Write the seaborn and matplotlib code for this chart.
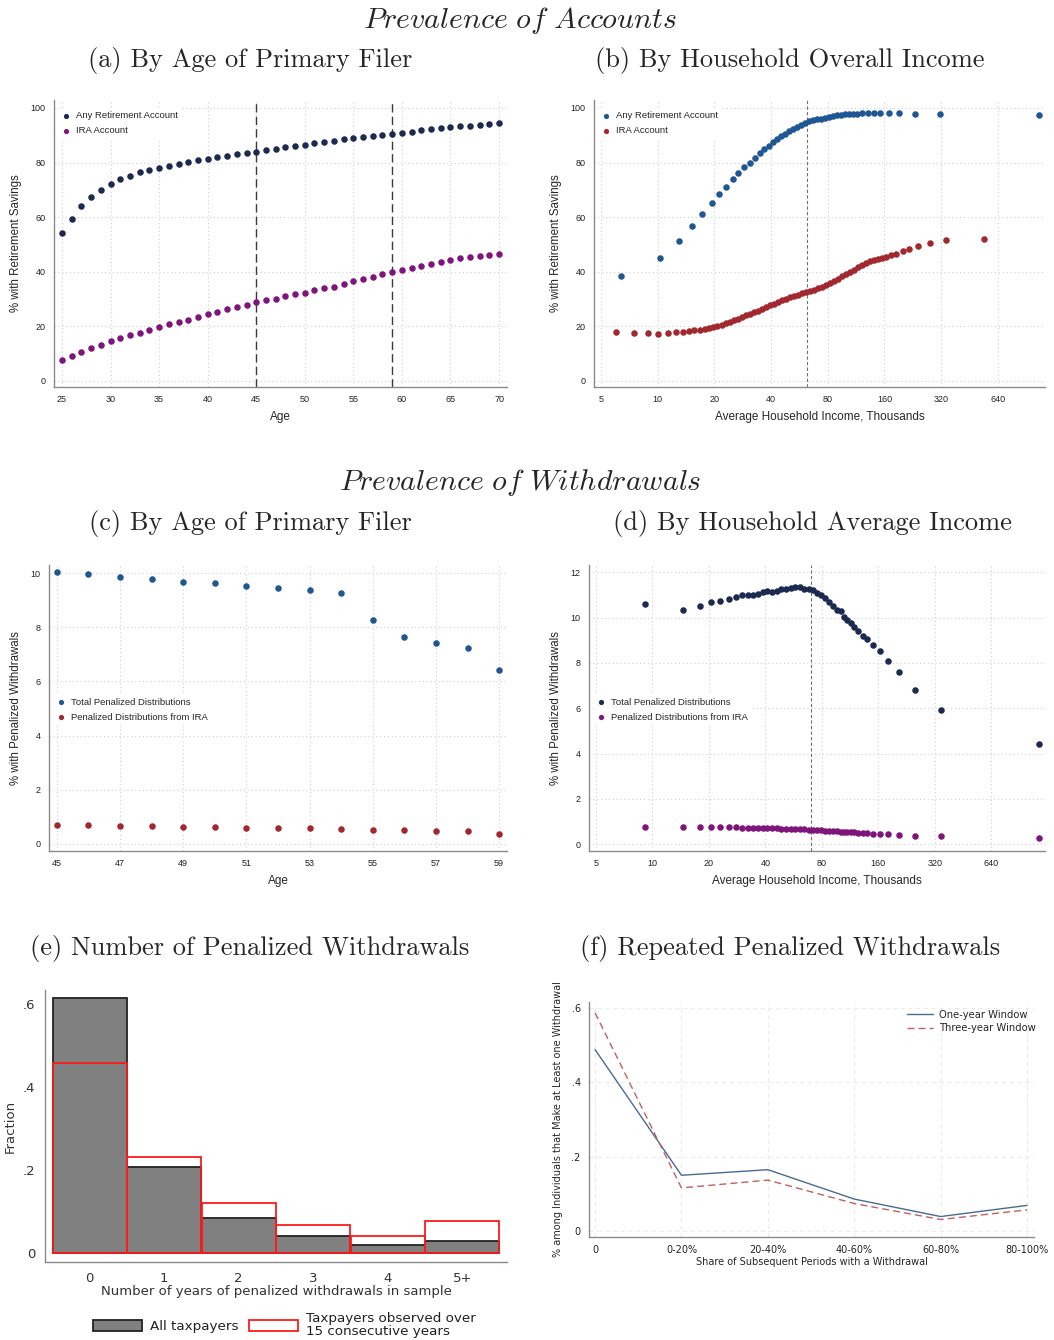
import matplotlib
matplotlib.use("Agg")
import matplotlib.pyplot as plt
import seaborn as sns
from matplotlib.patches import Patch

sns.set_style("white")
plt.rcParams["mathtext.fontset"] = "cm"
plt.rcParams["font.family"] = ["Liberation Sans", "DejaVu Sans"]

# ---------------- (a) accounts by age ----------------
age_a = list(range(25, 71))
any_acct_age = [54.1, 59.5, 63.9, 67.2, 69.9, 72.0, 73.8, 75.2, 76.4, 77.2,
                78.1, 78.8, 79.4, 80.2, 80.8, 81.4, 81.9, 82.4, 83.0, 83.5,
                84.0, 84.6, 85.1, 85.6, 86.0, 86.5, 87.0, 87.5, 88.0, 88.5,
                88.9, 89.4, 89.7, 90.2, 90.6, 90.9, 91.3, 91.8, 92.2, 92.5,
                92.9, 93.3, 93.5, 93.8, 94.2, 94.6]
ira_acct_age = [7.6, 9.3, 10.8, 12.1, 13.3, 14.6, 15.7, 16.8, 17.7, 18.8,
                19.8, 20.8, 21.7, 22.5, 23.4, 24.4, 25.3, 26.2, 27.1, 28.0,
                28.8, 29.5, 30.2, 31.0, 31.7, 32.4, 33.2, 33.9, 34.6, 35.6,
                36.5, 37.3, 38.2, 39.2, 40.0, 40.8, 41.4, 42.2, 43.0, 43.7,
                44.3, 44.9, 45.4, 45.7, 46.1, 46.5]
age_lines_a = [45, 59]

# ---------------- (b) accounts by income ----------------
inc_any_b = [6.4, 10.3, 13.0, 15.3, 17.3, 19.4, 21.3, 23.1, 25.0, 26.8,
             28.8, 30.8, 32.9, 34.9, 36.8, 38.9, 41.0, 43.2, 45.4, 47.6,
             50.0, 52.5, 55.0, 57.7, 60.5, 63.4, 66.5, 69.8, 74.0, 77.8,
             81.6, 85.7, 90.1, 94.6, 99.3, 104.0, 109.5, 115.0, 121.0, 131.0,
             140.4, 152.0, 169.0, 192.0, 232.0, 315.0, 1061.0]
any_acct_inc = [38.4, 44.9, 51.3, 56.7, 61.2, 65.2, 68.4, 71.1, 73.9, 76.1,
                78.2, 80.0, 81.8, 83.4, 84.8, 86.2, 87.4, 88.6, 89.6, 90.6,
                91.4, 92.3, 93.0, 93.8, 94.5, 95.1, 95.6, 96.0, 96.1, 96.4,
                96.8, 97.1, 97.3, 97.4, 97.6, 97.7, 97.8, 97.9, 98.0, 98.2,
                98.2, 98.2, 98.2, 98.0, 97.8, 97.6, 97.4]
inc_ira_b = [6.0, 7.5, 8.85, 10.1, 11.3, 12.5, 13.6, 14.6, 15.7, 16.7,
             17.8, 18.7, 19.8, 20.8, 21.9, 23.0, 24.1, 25.3, 26.6, 27.9,
             29.3, 30.8, 32.3, 34.0, 35.7, 37.5, 39.3, 41.3, 43.4, 45.5,
             47.8, 50.2, 52.7, 55.4, 58.1, 61.0, 64.1, 67.3, 70.7, 74.2,
             77.9, 81.8, 85.9, 90.2, 94.8, 99.5, 104.5, 109.7, 115.2, 121.0,
             127.1, 133.4, 140.1, 147.1, 154.5, 164.0, 174.0, 185.0, 199.5, 217.0,
             241.5, 278.0, 341.5, 537.0]
ira_acct_inc = [18.0, 17.5, 17.5, 17.1, 17.7, 18.0, 18.0, 18.2, 18.5, 18.7,
                19.0, 19.3, 19.7, 20.1, 20.6, 21.1, 21.5, 22.2, 22.8, 23.4,
                24.0, 24.6, 25.2, 25.8, 26.4, 27.1, 27.7, 28.3, 28.9, 29.5,
                30.0, 30.6, 31.1, 31.6, 32.1, 32.6, 33.0, 33.5, 34.0, 34.6,
                35.3, 36.0, 36.8, 37.5, 38.3, 39.2, 40.0, 40.8, 41.7, 42.4,
                43.1, 43.8, 44.3, 44.8, 45.2, 45.5, 46.0, 46.6, 47.6, 48.5,
                49.5, 50.4, 51.5, 52.1]
inc_line_b = 62

# ---------------- (c) withdrawals by age ----------------
age_c = list(range(45, 60))
total_pen_age = [10.04, 9.96, 9.85, 9.78, 9.67, 9.63, 9.53, 9.45, 9.37, 9.26,
                 8.26, 7.63, 7.41, 7.24, 6.41]
ira_pen_age = [0.70, 0.69, 0.68, 0.65, 0.64, 0.63, 0.60, 0.59, 0.58, 0.55,
               0.53, 0.52, 0.49, 0.48, 0.38]

# ---------------- (d) withdrawals by income ----------------
inc_d = [9.1, 14.5, 17.85, 20.5, 23.0, 25.5, 27.9, 30.0, 32.2, 34.3,
         36.5, 38.7, 41.0, 43.4, 45.9, 48.6, 51.5, 54.5, 57.8, 61.2,
         64.5, 68.0, 71.5, 75.0, 78.8, 82.8, 87.0, 91.7, 96.7, 100.8,
         105.0, 109.4, 113.9, 119.2, 124.7, 132.0, 139.8, 150.4, 163.3, 181.0,
         207.0, 251.0, 345.0, 1150.0]
total_pen_inc = [10.62, 10.35, 10.50, 10.68, 10.74, 10.84, 10.90, 10.99, 10.99, 10.99,
                 11.04, 11.13, 11.16, 11.12, 11.19, 11.24, 11.28, 11.31, 11.35, 11.34,
                 11.26, 11.26, 11.22, 11.10, 10.99, 10.88, 10.68, 10.50, 10.32, 10.28,
                 10.04, 9.88, 9.74, 9.57, 9.41, 9.19, 9.06, 8.79, 8.53, 8.09,
                 7.59, 6.79, 5.90, 4.41]
ira_pen_inc = [0.74, 0.75, 0.75, 0.75, 0.75, 0.74, 0.74, 0.73, 0.73, 0.72,
               0.72, 0.71, 0.71, 0.70, 0.70, 0.69, 0.68, 0.68, 0.67, 0.66,
               0.65, 0.64, 0.63, 0.62, 0.61, 0.60, 0.59, 0.58, 0.57, 0.56,
               0.55, 0.54, 0.53, 0.52, 0.51, 0.50, 0.49, 0.47, 0.45, 0.43,
               0.41, 0.38, 0.34, 0.26]
inc_line_d = 69.7

# ---------------- (e) number of penalized withdrawal years ----------------
years_cat = ["0", "1", "2", "3", "4", "5+"]
frac_all = [0.614, 0.207, 0.083, 0.040, 0.020, 0.028]
frac_15yr = [0.459, 0.231, 0.120, 0.067, 0.040, 0.076]

# ---------------- (f) repeated withdrawals ----------------
share_cat = ["0", "0-20%", "20-40%", "40-60%", "60-80%", "80-100%"]
one_year = [0.488, 0.150, 0.165, 0.086, 0.039, 0.069]
three_year = [0.587, 0.116, 0.137, 0.074, 0.031, 0.057]

inc_ticks = [5, 10, 20, 40, 80, 160, 320, 640]

NAVY = "#1c2a50"
PURPLE = "#7d157d"
BLUE = "#1f5793"
RED = "#a0282e"
AXC = "#8a8a8a"

fig = plt.figure(figsize=(10.54, 13.40), dpi=100)
W, H = 1054, 1340


def add_ax(x0, y0, x1, y1):
    return fig.add_axes([x0 / W, 1 - y1 / H, (x1 - x0) / W, (y1 - y0) / H])


def stata_style(ax, labelsize=6.5, grid=True, grid_ls=(0, (1, 2.5))):
    for s in ["top", "right"]:
        ax.spines[s].set_visible(False)
    for s in ["left", "bottom"]:
        ax.spines[s].set_color(AXC)
        ax.spines[s].set_linewidth(1.0)
    ax.tick_params(axis="both", direction="out", length=4, width=0.8,
                   color=AXC, labelsize=labelsize, pad=2, labelcolor="#222222")
    if grid:
        ax.grid(True, color="#cfcfcf", linestyle=grid_ls, linewidth=0.8)
    ax.set_axisbelow(True)


def legend_box(ax, anchor, fs=6.8):
    leg = ax.legend(loc="upper left", bbox_to_anchor=anchor, frameon=True,
                    fontsize=fs, handletextpad=0.6, labelspacing=0.6,
                    borderpad=0.4, handlelength=0.8, markerscale=0.8)
    leg.get_frame().set_edgecolor("none")
    leg.get_frame().set_facecolor("white")
    leg.get_frame().set_alpha(1)
    return leg


MS = 22

# ---- panel (a)
ax = add_ax(54, 100, 507, 387)
sns.scatterplot(x=age_a, y=any_acct_age, color=NAVY, s=MS, linewidth=0,
                label="Any Retirement Account", ax=ax, zorder=3)
sns.scatterplot(x=age_a, y=ira_acct_age, color=PURPLE, s=MS, linewidth=0,
                label="IRA Account", ax=ax, zorder=3)
for a in age_lines_a:
    ax.axvline(a, color="#3a3a3a", linestyle=(0, (6, 3)), linewidth=1.0, zorder=2)
ax.set_xlim(24.18, 70.82)
ax.set_ylim(-2.2, 102.9)
ax.set_xticks(range(25, 71, 5))
ax.set_yticks(range(0, 101, 20))
stata_style(ax)
ax.set_xlabel("Age", fontsize=8.5, labelpad=5)
ax.set_ylabel("% with Retirement Savings", fontsize=8.3, labelpad=6)
legend_box(ax, (0.0, 0.99))

# ---- panel (b)
ax = add_ax(594, 100, 1045, 387)
sns.scatterplot(x=inc_any_b, y=any_acct_inc, color=BLUE, s=MS, linewidth=0,
                label="Any Retirement Account", ax=ax, zorder=3)
sns.scatterplot(x=inc_ira_b, y=ira_acct_inc, color=RED, s=MS, linewidth=0,
                label="IRA Account", ax=ax, zorder=3)
ax.axvline(inc_line_b, color="#707070", linestyle=(0, (3, 2)), linewidth=0.8, zorder=2)
ax.set_xscale("log", base=2)
ax.set_xlim(4.6, 1138)
ax.set_ylim(-2.2, 102.9)
ax.set_xticks(inc_ticks)
ax.set_xticklabels([str(t) for t in inc_ticks])
ax.minorticks_off()
ax.set_yticks(range(0, 101, 20))
stata_style(ax)
ax.set_xlabel("Average Household Income, Thousands", fontsize=8.5, labelpad=5)
ax.set_ylabel("% with Retirement Savings", fontsize=8.3, labelpad=6)
legend_box(ax, (0.0, 0.99))

# ---- panel (c)
ax = add_ax(49, 565, 507, 851)
sns.scatterplot(x=age_c, y=total_pen_age, color=BLUE, s=MS, linewidth=0,
                label="Total Penalized Distributions", ax=ax, zorder=3)
sns.scatterplot(x=age_c, y=ira_pen_age, color=RED, s=MS, linewidth=0,
                label="Penalized Distributions from IRA", ax=ax, zorder=3)
ax.set_xlim(44.75, 59.25)
ax.set_ylim(-0.26, 10.3)
ax.set_xticks(range(45, 60, 2))
ax.set_yticks(range(0, 11, 2))
stata_style(ax)
ax.set_xlabel("Age", fontsize=8.5, labelpad=5)
ax.set_ylabel("% with Penalized Withdrawals", fontsize=8.3, labelpad=6)
legend_box(ax, (0.0, 0.565))

# ---- panel (d)
ax = add_ax(589, 565, 1045, 851)
sns.scatterplot(x=inc_d, y=total_pen_inc, color=NAVY, s=MS, linewidth=0,
                label="Total Penalized Distributions", ax=ax, zorder=3)
sns.scatterplot(x=inc_d, y=ira_pen_inc, color=PURPLE, s=MS, linewidth=0,
                label="Penalized Distributions from IRA", ax=ax, zorder=3)
ax.axvline(inc_line_d, color="#707070", linestyle=(0, (3, 2)), linewidth=0.8, zorder=2)
ax.set_xscale("log", base=2)
ax.set_xlim(4.6, 1236)
ax.set_ylim(-0.30, 12.32)
ax.set_xticks(inc_ticks)
ax.set_xticklabels([str(t) for t in inc_ticks])
ax.minorticks_off()
ax.set_yticks(range(0, 13, 2))
stata_style(ax)
ax.set_xlabel("Average Household Income, Thousands", fontsize=8.5, labelpad=5)
ax.set_ylabel("% with Penalized Withdrawals", fontsize=8.3, labelpad=6)
legend_box(ax, (0.0, 0.565))

# ---- panel (e)
ax = add_ax(45, 990, 507, 1262)
sns.barplot(x=years_cat, y=frac_all, color="#808080", saturation=1,
            edgecolor="#222222", linewidth=1.3, width=0.99, errorbar=None,
            ax=ax, zorder=2)
sns.barplot(x=years_cat, y=frac_15yr, color="#ff1a1a", saturation=1,
            fill=False, linewidth=1.3, width=0.99, errorbar=None, ax=ax, zorder=3)
ax.set_xlim(-0.6, 5.6)
ax.set_ylim(-0.022, 0.634)
ax.set_yticks([0, 0.2, 0.4, 0.6])
ax.set_yticklabels(["0", ".2", ".4", ".6"], fontfamily="DejaVu Sans")
ax.set_xticks(range(6))
ax.set_xticklabels(years_cat, fontfamily="DejaVu Sans")
stata_style(ax, labelsize=9.5, grid=False)
ax.tick_params(length=5, colors="#333333", color=AXC)
ax.set_xlabel("Number of years of penalized withdrawals in sample",
              fontsize=9.5, fontfamily="DejaVu Sans", labelpad=0, color="#333333")
ax.set_ylabel("Fraction", fontsize=9.5, fontfamily="DejaVu Sans", labelpad=4,
              color="#333333")
handles = [Patch(facecolor="#808080", edgecolor="#222222", linewidth=1.3),
           Patch(facecolor="white", edgecolor="#ff1a1a", linewidth=1.3)]
leg = ax.legend(handles, ["All taxpayers", "Taxpayers observed over\n15 consecutive years"],
                loc="upper center", bbox_to_anchor=(0.518, -0.16), ncol=2, frameon=False,
                prop={"family": "DejaVu Sans", "size": 9.7}, handlelength=3.6,
                handleheight=0.9, columnspacing=0.8, handletextpad=0.6,
                labelspacing=0.1, borderpad=0.0)
for t in leg.get_texts():
    t.set_linespacing(0.95)
    t.set_color("#222222")

# ---- panel (f)
ax = add_ax(589, 1002, 1034, 1237)
pos = list(range(len(share_cat)))
sns.lineplot(x=pos, y=one_year, color="#4a6a93", linewidth=1.0,
             label="One-year Window", ax=ax, zorder=3)
sns.lineplot(x=pos, y=three_year, color="#c0605f", linewidth=1.0,
             linestyle=(0, (5, 3)), label="Three-year Window", ax=ax, zorder=3)
ax.set_xlim(-0.07, 5.08)
ax.set_ylim(-0.016, 0.616)
ax.set_xticks(pos)
ax.set_xticklabels(share_cat, fontfamily="DejaVu Sans")
ax.set_yticks([0, 0.2, 0.4, 0.6])
ax.set_yticklabels(["0", ".2", ".4", ".6"], fontfamily="DejaVu Sans")
stata_style(ax, labelsize=7, grid_ls=(0, (4, 3)))
ax.grid(True, color="#ececec", linestyle=(0, (4, 3)), linewidth=0.8)
ax.set_xlabel("Share of Subsequent Periods with a Withdrawal", fontsize=7,
              fontfamily="DejaVu Sans", labelpad=1)
ax.set_ylabel("% among Individuals that Make at Least one Withdrawal", fontsize=7,
              fontfamily="DejaVu Sans", labelpad=6)
ax.legend(loc="upper right", bbox_to_anchor=(1.025, 1.005), frameon=False,
          prop={"family": "DejaVu Sans", "size": 7.2}, handlelength=2.6,
          handletextpad=0.6, labelspacing=0.35)

# ---- titles
fig.text(520 / W, 1 - 20 / H, r"$\mathit{Prevalence\ of\ Accounts}$",
         ha="center", va="center", fontsize=21.5)
fig.text(520 / W, 1 - 483 / H, r"$\mathit{Prevalence\ of\ Withdrawals}$",
         ha="center", va="center", fontsize=21.5)
sub_kw = dict(ha="center", va="center", fontsize=19, fontfamily="cmr10")
fig.text(250 / W, 1 - 61 / H, "(a) By Age of Primary Filer", **sub_kw)
fig.text(790 / W, 1 - 61 / H, "(b) By Household Overall Income", **sub_kw)
fig.text(250 / W, 1 - 524 / H, "(c) By Age of Primary Filer", **sub_kw)
fig.text(812 / W, 1 - 524 / H, "(d) By Household Average Income", **sub_kw)
fig.text(250 / W, 1 - 948 / H, "(e) Number of Penalized Withdrawals", **sub_kw)
fig.text(790 / W, 1 - 948 / H, "(f) Repeated Penalized Withdrawals", **sub_kw)

fig.savefig("out.png", dpi=100, facecolor="white")
